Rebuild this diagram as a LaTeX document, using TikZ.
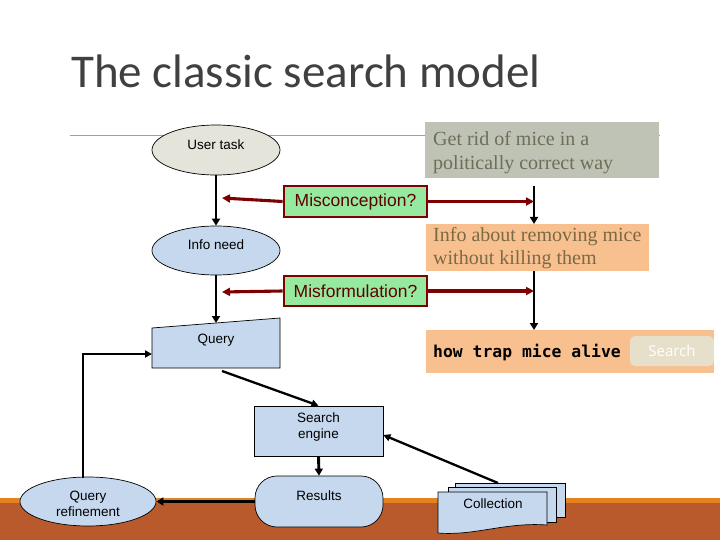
\documentclass[tikz,border=0pt]{standalone}
\usepackage{fontspec}
\setmainfont{Liberation Serif}
\setsansfont{Liberation Sans}
\newfontfamily\titlefont{Carlito}
\newfontfamily\codefont{DejaVu Sans Mono}
\newfontfamily\btnfont{Open Sans}
\usetikzlibrary{arrows.meta,shapes.geometric,calc}
\definecolor{titlegray}{HTML}{404040}
\definecolor{rulegray}{HTML}{A0A0A0}
\definecolor{taskfill}{HTML}{E4E4DA}
\definecolor{bluefill}{HTML}{C6D8EE}
\definecolor{greenfill}{HTML}{95EA9F}
\definecolor{darkred}{HTML}{7F0000}
\definecolor{redtext}{HTML}{5E0000}
\definecolor{graybox}{HTML}{BEC3B5}
\definecolor{graytext}{HTML}{6E6E58}
\definecolor{orangebox}{HTML}{F9C08F}
\definecolor{orangetext}{HTML}{7A6A45}
\definecolor{btnfill}{HTML}{E6E0CB}
\definecolor{bandorange}{HTML}{E3821F}
\definecolor{bandbrown}{HTML}{B85A2B}
\tikzset{
  shapetxt/.style={font=\sffamily\fontsize{13.5}{16}\selectfont, align=center, inner sep=0pt},
  ellnode/.style={ellipse, draw=black, line width=0.7pt, inner sep=0pt},
  boxnode/.style={rectangle, draw=black, line width=0.7pt, fill=bluefill, inner sep=0pt},
  blk/.style={draw=black, line width=2.9pt, -{Triangle[length=7pt,width=8pt]}},
  thinblk/.style={draw=black, line width=2.3pt, -{Triangle[length=7pt,width=7pt]}},
  redarr/.style={draw=darkred, line width=3.1pt, -{Triangle[length=8pt,width=8pt]}},
  warnbox/.style={rectangle, draw=darkred, line width=2.8pt, fill=greenfill, text=redtext,
    font=\sffamily\fontsize{17.5}{20}\selectfont, inner sep=0pt},
  seriftxt/.style={font=\rmfamily\fontsize{20}{24}\selectfont, inner sep=0pt, anchor=base west}
}
\begin{document}
\begin{tikzpicture}[x=1pt,y=-1pt]
\useasboundingbox (0,0) rectangle (720,540);
% bottom band
\fill[bandorange] (0,498) rectangle (720,503);
\fill[bandbrown] (0,503) rectangle (720,540);
% title
\node[anchor=base west, inner sep=0pt, text=titlegray, font=\titlefont\fontsize{47}{56}\selectfont] (title) at (71,88) {The classic search model};
\draw[rulegray, line width=1pt] (70,136) -- (660,136);

% right column boxes
\node[rectangle, fill=graybox, minimum width=234pt, minimum height=56pt, anchor=north west, inner sep=0pt] (task) at (425,122) {};
\node[seriftxt, text=graytext] (taskA) at (433,146) {Get rid of mice in a};
\node[seriftxt, text=graytext] (taskB) at (433,170) {politically correct way};

\node[rectangle, fill=orangebox, minimum width=223pt, minimum height=47pt, anchor=north west, inner sep=0pt] (info) at (426,224) {};
\node[seriftxt, text=orangetext] (infoA) at (433,241) {Info about removing mice};
\node[seriftxt, text=orangetext] (infoB) at (433,264) {without killing them};

\node[rectangle, fill=orangebox, minimum width=288pt, minimum height=43pt, anchor=north west, inner sep=0pt] (qbox) at (426,330) {};
\node[anchor=base west, inner sep=0pt, font=\codefont\bfseries\fontsize{16.4}{20}\selectfont] (qtext) at (433,357) {how trap mice alive};
\node[rectangle, rounded corners=5pt, fill=btnfill, minimum width=84pt, minimum height=30pt, inner sep=0pt] (btn) at (672,351) {};
\node[text=white, font=\btnfont\fontsize{15}{18}\selectfont, inner sep=0pt] (btntxt) at (672,351) {Search};

\coordinate (r1a) at (534,186);
\coordinate (r2a) at (534,271);
\draw[blk] (r1a) -- (info.north -| r1a);
\draw[blk] (r2a) -- (qbox.north -| r2a);

% left column
\node[ellnode, fill=taskfill, minimum width=128pt, minimum height=50pt] (user) at (216,150) {};
\node[shapetxt] (usertxt) at (216,145) {User task};
\node[ellnode, fill=bluefill, minimum width=128pt, minimum height=49pt] (need) at (216,250.5) {};
\node[shapetxt] (needtxt) at (216,245) {Info need};

\coordinate (qtl) at (152,328);
\coordinate (qtr) at (280,318);
\coordinate (qbr) at (280,368);
\coordinate (qbl) at (152,368);
\filldraw[fill=bluefill, draw=black, line width=0.7pt] (qtl) -- (qtr) -- (qbr) -- (qbl) -- cycle;
\node[shapetxt] (query) at (216,340) {Query};
\coordinate (qtop) at (216,323);
\coordinate (qleft) at (152,354);
\coordinate (qbot) at (222,371);

\draw[blk] (user.south) -- (need.north);
\draw[blk] (need.south) -- (qtop);

% warning boxes
\node[warnbox, minimum width=143pt, minimum height=31pt] (misc) at (355.5,201.5) {Misconception?};
\node[warnbox, minimum width=143pt, minimum height=30pt] (misf) at (355.5,291) {Misformulation?};
\coordinate (mL) at (222,198);
\coordinate (fL) at (222,292);
\draw[redarr] (misc.west) -- (mL);
\draw[redarr] (misc.east) -- (misc.east -| r1a);
\draw[redarr] (misf.west) -- (fL);
\draw[redarr] (misf.east) -- (misf.east -| r1a);

% search engine and results
\node[boxnode, minimum width=129pt, minimum height=50pt] (se) at (318.5,431) {};
\node[shapetxt] (setxt) at (318.5,427) {Search\\engine};
\node[boxnode, rounded corners=22pt, minimum width=128pt, minimum height=51pt] (res) at (319,501.5) {};
\node[shapetxt] (restxt) at (319,496) {Results};
\node[ellnode, fill=bluefill, minimum width=136pt, minimum height=49pt] (qr) at (88,501.5) {};
\node[shapetxt] (qrtxt) at (88,504) {Query\\refinement};

\draw[thinblk] (qbot) -- (se.north);
\draw[blk] (se.south) -- (res.north);
\draw[blk] (res.west) -- (qr.east);
\coordinate (rfup) at (83,478);
\draw[thinblk] (rfup) |- (qleft);

% collection
\filldraw[fill=bluefill, draw=black, line width=0.7pt] (455,483) rectangle (565,517);
\filldraw[fill=bluefill, draw=black, line width=0.7pt] (448,487) rectangle (556,522);
\filldraw[fill=bluefill, draw=black, line width=0.7pt] (438,492) -- (547,492) -- (547,525) .. controls (505,522) and (475,536) .. (438,533) -- cycle;
\node[shapetxt] (coll) at (493,503.5) {Collection};
\coordinate (colltop) at (498,483);
\draw[thinblk] (colltop) -- ($(se.east)+(0,4)$);
\end{tikzpicture}
\end{document}
